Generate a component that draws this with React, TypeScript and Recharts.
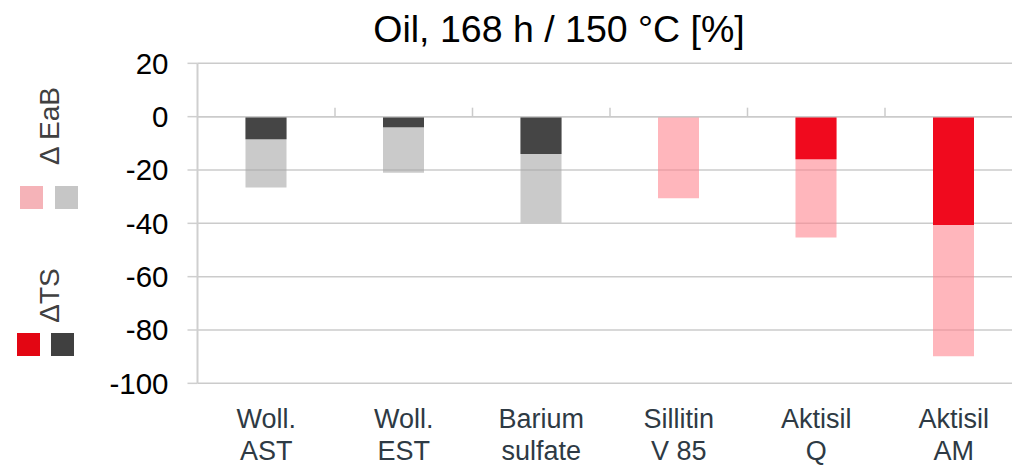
import React from 'react';
import { BarChart, Bar, XAxis, YAxis, CartesianGrid, ReferenceLine, Cell } from 'recharts';

// Fillers, change after 168 h in oil at 150 °C
const CATEGORIES = ['Woll.\nAST', 'Woll.\nEST', 'Barium\nsulfate', 'Sillitin\nV 85', 'Aktisil\nQ', 'Aktisil\nAM'];
const FAMILY = ['grey', 'grey', 'grey', 'red', 'red', 'red'];
const DELTA_EAB = [-26.6, -21, -39.8, -30.6, -45.3, -89.8];
const DELTA_TS = [-8.5, -4, -14, 0, -16, -40.6];
const Y_TICKS = [20, 0, -20, -40, -60, -80, -100];
const TITLE = 'Oil, 168 h / 150 °C [%]';

const FONT = '"Liberation Sans", Arial, Helvetica, sans-serif';
const GRID = '#cbcbcb';

const BAR_COLORS: Record<string, { eab: string; ts: string }> = {
  grey: { eab: '#a6a6a6', ts: '#454545' },
  red: { eab: '#ff868f', ts: '#f00a1e' },
};

const data = CATEGORIES.map((name, i) => ({
  name,
  family: FAMILY[i],
  eab: DELTA_EAB[i],
  ts: DELTA_TS[i],
}));

const CategoryTick = (props: any) => {
  const { x, y, payload } = props;
  const lines = String(payload.value).split('\n');
  return (
    <text x={x} y={y + 45} textAnchor="middle" fill="#2e3a44" fontSize={27} fontFamily={FONT}>
      {lines.map((line, i) => (
        <tspan key={i} x={x} dy={i === 0 ? 0 : 31.7}>
          {line}
        </tspan>
      ))}
    </text>
  );
};

// Zero line with small category separators pointing upwards
const ZeroAxis = (props: any) => {
  const { x1, y1, x2 } = props;
  const step = (x2 - x1) / CATEGORIES.length;
  const marks = [];
  for (let i = 1; i < CATEGORIES.length; i++) {
    const xx = x1 + step * i;
    marks.push(<line key={i} x1={xx} x2={xx} y1={y1 - 9} y2={y1} stroke={GRID} strokeWidth={1.5} />);
  }
  return (
    <g>
      <line x1={x1} x2={x2} y1={y1} y2={y1} stroke={GRID} strokeWidth={1.5} />
      {marks}
    </g>
  );
};

export default function App() {
  return (
    <div style={{ position: 'fixed', left: 0, top: 0, width: 1012, height: 465, overflow: 'hidden', background: '#fff' }}>
      <BarChart
        width={1040}
        height={465}
        data={data}
        margin={{ top: 63.33, right: 17.5, bottom: 0, left: 0 }}
        barSize={41}
        barGap={-41}
      >
        <CartesianGrid vertical={false} stroke={GRID} strokeWidth={1.5} />
        <XAxis
          dataKey="name"
          height={81.67}
          axisLine={false}
          tickLine={false}
          tickSize={0}
          tickMargin={0}
          interval={0}
          tick={<CategoryTick />}
        />
        <YAxis
          width={197.5}
          domain={[-100, 20]}
          ticks={Y_TICKS}
          interval={0}
          tickSize={10}
          tickMargin={19}
          axisLine={{ stroke: '#cfcfcf', strokeWidth: 2 }}
          tickLine={{ stroke: '#cfcfcf', strokeWidth: 1.5 }}
          tick={{ fill: '#000', fontSize: 29.5, fontFamily: FONT }}
        />
        <Bar dataKey="eab" isAnimationActive={false} fillOpacity={0.6}>
          {data.map((d, i) => (
            <Cell key={i} fill={BAR_COLORS[d.family].eab} />
          ))}
        </Bar>
        <Bar dataKey="ts" isAnimationActive={false}>
          {data.map((d, i) => (
            <Cell key={i} fill={BAR_COLORS[d.family].ts} />
          ))}
        </Bar>
        <ReferenceLine y={0} shape={<ZeroAxis />} />
      </BarChart>
      <svg
        width={1012}
        height={465}
        style={{ position: 'absolute', left: 0, top: 0, pointerEvents: 'none' }}
      >
        <text x={559} y={42} textAnchor="middle" fontSize={37.5} fontFamily={FONT} fill="#000">
          {TITLE}
        </text>
        <text
          x={49}
          y={126}
          transform="rotate(-90 49 126)"
          textAnchor="middle"
          dominantBaseline="central"
          fontSize={28}
          fontFamily={FONT}
          fill="#404040"
        >
          Δ EaB
        </text>
        <rect x={20} y={186} width={23} height={23} fill="#f5b3b8" />
        <rect x={55} y={186} width={23} height={23} fill="#c6c6c6" />
        <text
          x={49.5}
          y={295.5}
          transform="rotate(-90 49.5 295.5)"
          textAnchor="middle"
          dominantBaseline="central"
          fontSize={28}
          fontFamily={FONT}
          fill="#404040"
        >
          ΔTS
        </text>
        <rect x={17} y={333} width={23} height={23} fill="#e30613" />
        <rect x={51} y={333} width={23} height={23} fill="#404040" />
      </svg>
    </div>
  );
}
